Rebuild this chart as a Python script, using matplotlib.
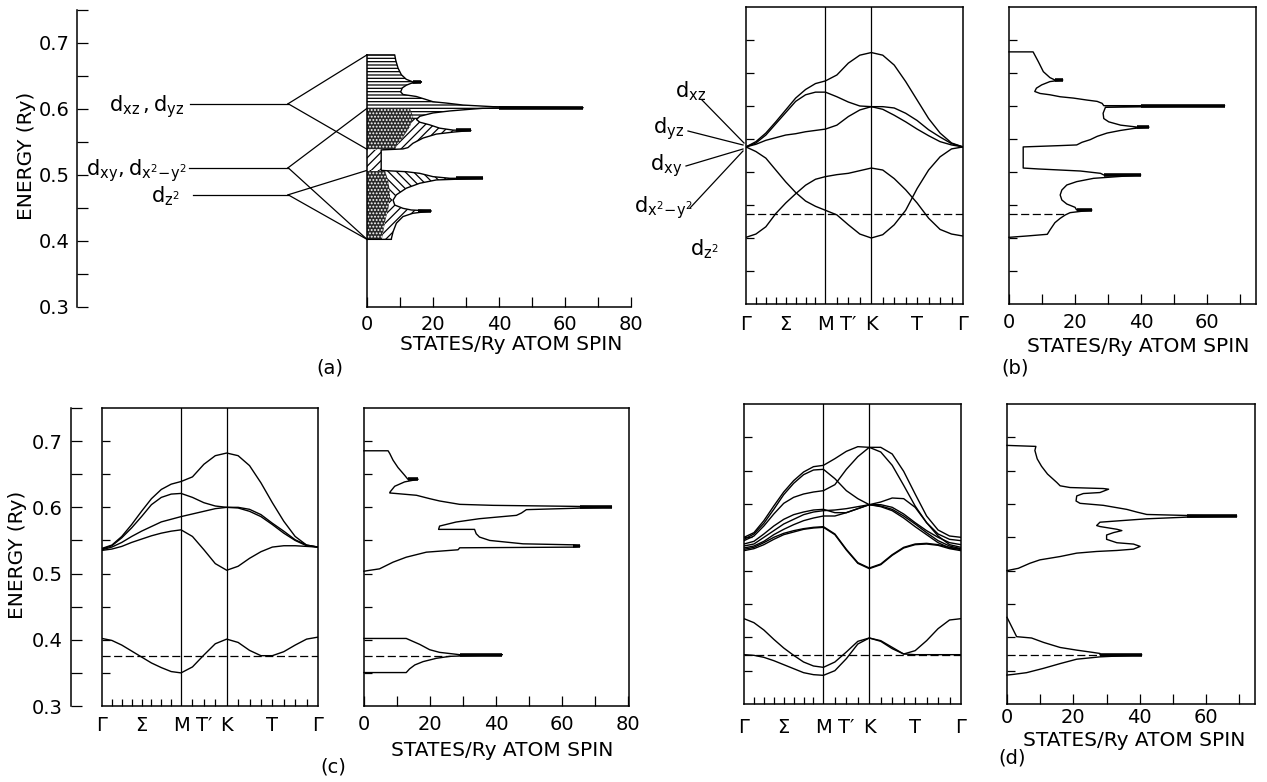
import numpy as np
import matplotlib
matplotlib.use("Agg")
import matplotlib.pyplot as plt
from matplotlib.patches import Polygon
from matplotlib.lines import Line2D
from matplotlib.ticker import NullLocator

plt.rcParams['font.family'] = ['DejaVu Sans']
plt.rcParams['mathtext.fontset'] = 'dejavusans'
plt.rcParams['hatch.linewidth'] = 0.9
plt.rcParams['axes.linewidth'] = 1.1

# ------------------------------------------------------------------ data
# k path: Gamma-M, M-K, K-Gamma (hexagonal zone), divided into equal steps
SEGMENTS = [1.0, 1 / np.sqrt(3), 2 / np.sqrt(3)]
N_DIV = [8, 4, 8]
K_LABELS = ['Γ', 'Σ', 'M', 'T′', 'K', 'T', 'Γ']
K_LABEL_IDX = [0, 4, 8, 10, 12, 16, 20]

# panel (a): atomic levels and their split sub-band edges
LEVEL_E = [0.608, 0.511, 0.470]
LEVEL_LABELS = [r'$\mathrm{d_{xz}\,,d_{yz}}$', r'$\mathrm{d_{xy},d_{x^2\!-\!y^2}}$', r'$\mathrm{d_{z^2}}$']
FAN_TOP = [0.682, 0.601, 0.507]
FAN_BOT = [0.539, 0.4025, 0.4025]

A_DOS_STATES = [0, 8.4, 8.7, 9.4, 10.4, 11.9, 13.9, 16.5, 13.4, 11.9, 10.7, 10.2, 10.9, 14.9, 17.5, 20.0,
                24.0, 29.1, 38.2, 65.5, 35.0, 31.0, 25.0, 20.0, 16.0, 15.0, 16.0, 19.0, 22.0, 26.1, 31.5,
                26.1, 21.0, 17.0, 13.9, 12.4, 10.9, 4.3, 4.3, 5.9, 11.9, 16.0, 20.0, 25.1, 35.0, 21.0,
                16.0, 11.9, 8.9, 7.9, 8.4, 10.9, 13.4, 19.5, 13.9, 10.9, 8.9, 7.9, 7.4, 7.4, 0]
A_DOS_ENERGY = [0.682, 0.682, 0.674, 0.662, 0.652, 0.645, 0.641, 0.641, 0.639, 0.636, 0.632, 0.626, 0.622,
                0.619, 0.615, 0.611, 0.609, 0.606, 0.6035, 0.602, 0.601, 0.5995, 0.597, 0.594, 0.589,
                0.584, 0.580, 0.576, 0.571, 0.568, 0.5675, 0.565, 0.562, 0.556, 0.548, 0.5415, 0.5395,
                0.538, 0.507, 0.5065, 0.505, 0.5025, 0.4975, 0.495, 0.495, 0.4925, 0.4875, 0.480, 0.470,
                0.462, 0.4545, 0.4495, 0.447, 0.4455, 0.442, 0.437, 0.427, 0.414, 0.404, 0.4025, 0.4025]
A_SPIKE_E = [0.641, 0.602, 0.5675, 0.495, 0.4455]
A_SPIKE_FROM = [13.9, 40.0, 27.0, 27.0, 15.5]
A_SPIKE_TO = [16.5, 65.5, 31.5, 35.0, 19.5]
A_HATCH_BOUNDS = [0.69, 0.585, 0.539, 0.507, 0.462, 0.40]
A_HATCHES = ['-----', '////', '////', '\\\\\\\\', '////']
A_DOT1_STATES = [0, 13.0, 14.0, 13.0, 11.0, 8.8, 8.6, 0]
A_DOT1_ENERGY = [0.601, 0.601, 0.588, 0.573, 0.558, 0.543, 0.539, 0.539]
A_DOT2_STATES = [0, 5.5, 6.5, 7.0, 6.5, 5.5, 4.5, 0]
A_DOT2_ENERGY = [0.506, 0.506, 0.490, 0.470, 0.450, 0.430, 0.4025, 0.4025]

# panel (b): bands and DOS
B_BANDS = [
    [0.538, 0.546, 0.559, 0.576, 0.594, 0.612, 0.625, 0.634, 0.638, 0.647, 0.665, 0.677, 0.681, 0.677, 0.662, 0.637, 0.609, 0.581, 0.559, 0.544, 0.538],
    [0.538, 0.544, 0.556, 0.573, 0.590, 0.607, 0.617, 0.621, 0.621, 0.614, 0.606, 0.600, 0.599, 0.599, 0.597, 0.589, 0.578, 0.564, 0.553, 0.543, 0.538],
    [0.538, 0.542, 0.548, 0.552, 0.556, 0.558, 0.561, 0.563, 0.565, 0.571, 0.584, 0.594, 0.599, 0.595, 0.586, 0.576, 0.565, 0.555, 0.546, 0.541, 0.538],
    [0.538, 0.531, 0.521, 0.503, 0.485, 0.469, 0.456, 0.448, 0.442, 0.435, 0.420, 0.406, 0.400, 0.405, 0.420, 0.442, 0.475, 0.503, 0.523, 0.535, 0.538],
    [0.401, 0.406, 0.417, 0.437, 0.453, 0.467, 0.480, 0.489, 0.493, 0.496, 0.498, 0.502, 0.506, 0.503, 0.490, 0.473, 0.453, 0.430, 0.413, 0.406, 0.403],
]
B_FERMI = 0.436
B_FERMI_DOS = 17.5
B_DOS_STATES = [0, 7.3, 8.9, 10.4, 12.4, 13.9, 16.3, 12.4, 9.9, 8.3, 7.8, 9.4, 12.4, 15.5, 19.5, 23.6, 26.7,
                28.2, 28.7, 65.3, 29.2, 28.5, 28.7, 30.2, 33.8, 38.9, 42.4, 37.8, 33.8, 29.7, 26.7, 24.6,
                22.1, 20.5, 15.5, 4.3, 4.3, 8.9, 15.5, 21.6, 27.7, 28.7, 39.9, 25.6, 20.5, 17.5, 16.0, 15.5,
                16.0, 17.5, 20.0, 20.5, 25.1, 18.5, 17.0, 15.5, 13.9, 12.4, 11.6, 5.3, 0]
B_DOS_ENERGY = [0.682, 0.682, 0.667, 0.652, 0.643, 0.6394, 0.6394, 0.637, 0.632, 0.627, 0.622, 0.619, 0.617,
                0.614, 0.612, 0.609, 0.607, 0.604, 0.6005, 0.6005, 0.598, 0.589, 0.581, 0.576, 0.571, 0.568,
                0.568, 0.566, 0.563, 0.559, 0.554, 0.549, 0.545, 0.541, 0.540, 0.538, 0.506, 0.5046, 0.503,
                0.5015, 0.498, 0.4955, 0.4955, 0.4904, 0.4854, 0.4803, 0.4727, 0.4652, 0.4576, 0.4515,
                0.4465, 0.4424, 0.4424, 0.4384, 0.4348, 0.4298, 0.4232, 0.4121, 0.4056, 0.403, 0.401]
B_SPIKE_E = [0.6394, 0.6005, 0.568, 0.4955, 0.4424]
B_SPIKE_FROM = [13.9, 39.9, 38.9, 28.7, 20.5]
B_SPIKE_TO = [16.3, 65.3, 42.4, 39.9, 25.1]
B_BAND_LABELS = [r'$\mathrm{d_{xz}}$', r'$\mathrm{d_{yz}}$', r'$\mathrm{d_{xy}}$',
                 r'$\mathrm{d_{x^2\!-\!y^2}}$', r'$\mathrm{d_{z^2}}$']

# panel (c)
C_BANDS = [
    [0.538, 0.543, 0.556, 0.574, 0.594, 0.613, 0.627, 0.635, 0.639, 0.646, 0.665, 0.678, 0.682, 0.678, 0.663, 0.637, 0.607, 0.579, 0.556, 0.543, 0.540],
    [0.537, 0.542, 0.554, 0.569, 0.586, 0.604, 0.615, 0.620, 0.621, 0.615, 0.607, 0.602, 0.600, 0.600, 0.597, 0.589, 0.576, 0.564, 0.551, 0.543, 0.540],
    [0.536, 0.540, 0.547, 0.556, 0.564, 0.571, 0.578, 0.582, 0.586, 0.590, 0.594, 0.598, 0.600, 0.599, 0.594, 0.586, 0.574, 0.561, 0.550, 0.542, 0.540],
    [0.535, 0.537, 0.541, 0.547, 0.552, 0.557, 0.561, 0.564, 0.566, 0.556, 0.536, 0.515, 0.505, 0.511, 0.523, 0.533, 0.540, 0.542, 0.542, 0.541, 0.540],
    [0.402, 0.399, 0.392, 0.383, 0.374, 0.365, 0.358, 0.352, 0.350, 0.359, 0.377, 0.394, 0.401, 0.396, 0.384, 0.376, 0.376, 0.382, 0.392, 0.401, 0.404],
]
C_FERMI = 0.375
C_FERMI_DOS = 26.0
C_DOS_UP_STATES = [0, 7.3, 7.8, 8.8, 10.3, 12.3, 13.3, 16.4, 12.3, 9.3, 7.9, 7.8, 15.9, 19.9, 22.9, 29.0,
                   39.1, 63.3, 75.0, 63.3, 49.2, 47.7, 46.2, 40.6, 34.9, 27.9, 22.9, 22.6, 33.5, 34.0, 35.0,
                   38.1, 48.2, 63.3, 65.4, 63.3, 29.0, 28.5, 18.9, 12.8, 8.8, 4.7, 1.2, 0]
C_DOS_UP_ENERGY = [0.6854, 0.6854, 0.6813, 0.6712, 0.6601, 0.6485, 0.6424, 0.6424, 0.6384, 0.6318, 0.6232,
                   0.6217, 0.6182, 0.6131, 0.6096, 0.6045, 0.6030, 0.6015, 0.6005, 0.5985, 0.5965, 0.5914,
                   0.5879, 0.5854, 0.5828, 0.5778, 0.5717, 0.5667, 0.5667, 0.5601, 0.5551, 0.5500, 0.5449,
                   0.5434, 0.5414, 0.5399, 0.5389, 0.5359, 0.5323, 0.5247, 0.5172, 0.5071, 0.5045, 0.5035]
C_DOS_LO_STATES = [0, 12.8, 16.9, 19.9, 22.9, 29.0, 41.9, 26.0, 21.9, 17.9, 15.4, 13.8, 12.8, 0]
C_DOS_LO_ENERGY = [0.402, 0.402, 0.393, 0.385, 0.381, 0.3775, 0.3775, 0.375, 0.372, 0.367, 0.362, 0.356,
                   0.3505, 0.3505]
C_SPIKE_E = [0.6424, 0.6005, 0.5414, 0.3775]
C_SPIKE_FROM = [13.3, 65.4, 63.3, 29.0]
C_SPIKE_TO = [16.4, 75.0, 65.4, 41.9]

# panel (d)
D_BANDS = [
    [0.550, 0.557, 0.575, 0.597, 0.618, 0.635, 0.648, 0.656, 0.658, 0.668, 0.679, 0.686, 0.685, 0.685, 0.675, 0.649, 0.615, 0.582, 0.561, 0.552, 0.550],
    [0.545, 0.552, 0.567, 0.585, 0.601, 0.610, 0.615, 0.618, 0.620, 0.629, 0.652, 0.671, 0.685, 0.678, 0.658, 0.628, 0.597, 0.572, 0.555, 0.547, 0.545],
    [0.547, 0.555, 0.571, 0.592, 0.614, 0.631, 0.644, 0.651, 0.652, 0.638, 0.620, 0.608, 0.599, 0.599, 0.595, 0.585, 0.572, 0.560, 0.550, 0.542, 0.539],
    [0.540, 0.544, 0.555, 0.567, 0.577, 0.584, 0.588, 0.591, 0.592, 0.587, 0.587, 0.593, 0.599, 0.603, 0.609, 0.608, 0.595, 0.572, 0.552, 0.539, 0.535],
    [0.537, 0.540, 0.550, 0.560, 0.570, 0.577, 0.584, 0.588, 0.590, 0.591, 0.593, 0.596, 0.599, 0.597, 0.592, 0.582, 0.570, 0.557, 0.545, 0.537, 0.533],
    [0.534, 0.537, 0.544, 0.554, 0.562, 0.569, 0.575, 0.579, 0.582, 0.582, 0.587, 0.593, 0.599, 0.596, 0.590, 0.579, 0.566, 0.554, 0.542, 0.534, 0.532],
    [0.532, 0.535, 0.542, 0.550, 0.556, 0.560, 0.563, 0.565, 0.566, 0.555, 0.532, 0.512, 0.504, 0.510, 0.524, 0.535, 0.540, 0.541, 0.539, 0.535, 0.532],
    [0.530, 0.533, 0.539, 0.547, 0.554, 0.558, 0.562, 0.564, 0.565, 0.554, 0.531, 0.511, 0.503, 0.509, 0.523, 0.534, 0.539, 0.540, 0.538, 0.533, 0.530],
    [0.428, 0.422, 0.411, 0.397, 0.384, 0.373, 0.363, 0.357, 0.355, 0.363, 0.378, 0.394, 0.399, 0.395, 0.385, 0.375, 0.380, 0.395, 0.413, 0.426, 0.428],
    [0.374, 0.373, 0.370, 0.365, 0.359, 0.353, 0.347, 0.344, 0.343, 0.350, 0.368, 0.390, 0.399, 0.394, 0.383, 0.375, 0.374, 0.374, 0.374, 0.374, 0.374],
]
D_FERMI = 0.3735
D_FERMI_DOS = 28.0
D_DOS_UP_STATES = [0, 8.7, 8.4, 9.1, 10.4, 12.2, 15.0, 16.0, 19.0, 29.0, 30.6, 28.0, 23.0, 21.0, 20.8, 22.0,
                   29.0, 36.1, 39.1, 42.1, 54.2, 69.2, 54.2, 42.1, 32.1, 28.0, 27.0, 28.0, 33.1, 34.6, 32.1,
                   30.0, 30.0, 33.1, 38.1, 40.1, 38.1, 33.1, 27.0, 21.0, 16.0, 9.9, 6.9, 3.4, 0.9, 0]
D_DOS_UP_ENERGY = [0.6879, 0.6864, 0.6803, 0.6677, 0.6566, 0.6449, 0.6323, 0.6273, 0.6247, 0.6232, 0.6222,
                   0.6172, 0.6157, 0.6121, 0.6045, 0.6010, 0.5980, 0.5919, 0.5879, 0.5843, 0.5828, 0.5818,
                   0.5803, 0.5778, 0.5742, 0.5727, 0.5677, 0.5662, 0.5621, 0.5601, 0.5571, 0.5535, 0.5470,
                   0.5419, 0.5399, 0.5364, 0.5323, 0.5303, 0.5288, 0.5263, 0.5212, 0.5162, 0.5111, 0.5035,
                   0.5010, 0.5000]
D_DOS_LO_STATES = [0, 2.9, 7.4, 11.0, 16.0, 21.0, 26.0, 28.0, 28.0, 40.6, 28.0, 21.0, 16.0, 11.0, 5.9, 1.9, 0]
D_DOS_LO_ENERGY = [0.430, 0.401, 0.399, 0.3924, 0.3848, 0.3808, 0.3773, 0.3758, 0.3737, 0.3737, 0.3707,
                   0.3672, 0.3606, 0.3535, 0.347, 0.3444, 0.3434]
D_SPIKE_E = [0.5818, 0.3737]
D_SPIKE_FROM = [54.2, 28.0]
D_SPIKE_TO = [69.2, 40.6]

DOS_LABEL = 'STATES/Ry ATOM SPIN'
E_LABEL = 'ENERGY (Ry)'

# ------------------------------------------------------------------ helpers
W, H = 1267, 782
fig = plt.figure(figsize=(W / 100, H / 100), dpi=100)
fig.patch.set_facecolor('white')

K = [0.0]
_start = 0.0
for _L, _n in zip(SEGMENTS, N_DIV):
    K += list(_start + _L * np.arange(1, _n + 1) / _n)
    _start += _L
K = np.array(K)
I_M, I_K = N_DIV[0], N_DIV[0] + N_DIV[1]

DASH = (6.5, 2.8)


def add_ax(l, t, r, b):
    return fig.add_axes([l / W, 1 - b / H, (r - l) / W, (b - t) / H])


def fx(x):
    return x / W


def fy(y):
    return 1 - y / H


def style_yticks_in(ax, length=6):
    ax.set_yticks(np.arange(0.35, 0.71, 0.05))
    ax.set_yticklabels([])
    ax.tick_params(axis='y', direction='in', length=length, width=0.9)
    ax.yaxis.set_minor_locator(NullLocator())


def band_axes(ax, bands, fermi, pad):
    for e in bands:
        ax.plot(K, e, color='k', lw=1.0, solid_joinstyle='round')
    ax.plot([K[0], K[-1]], [fermi, fermi], color='k', lw=0.9, dashes=DASH)
    for i in (I_M, I_K):
        ax.axvline(K[i], color='k', lw=0.9)
    ax.set_xlim(K[0], K[-1])
    ax.set_ylim(0.3, 0.75)
    ax.set_xticks(K[K_LABEL_IDX])
    ax.set_xticklabels(K_LABELS)
    ax.set_xticks([K[i] for i in range(1, len(K) - 1) if i not in (I_M, I_K)], minor=True)
    ax.xaxis.remove_overlapping_locs = False
    ax.tick_params(axis='x', which='major', length=0, labelsize=14, pad=pad)
    ax.tick_params(axis='x', which='minor', direction='in', length=5, width=0.9)
    style_yticks_in(ax)


def dos_axes(ax, pieces, spikes, fermi, fermi_x, xmax, pad):
    for xs, es in pieces:
        ax.plot(xs, es, color='k', lw=1.0, clip_on=False)
    for e, a, b in zip(*spikes):
        ax.plot([a, b], [e, e], color='k', lw=2.6, solid_capstyle='butt')
    if fermi is not None:
        ax.plot([0, fermi_x], [fermi, fermi], color='k', lw=0.9, dashes=DASH)
    ax.set_xlim(0, xmax)
    ax.set_ylim(0.3, 0.75)
    ticks = np.arange(0, xmax + 0.01, 10)
    ax.set_xticks(ticks)
    ax.set_xticklabels([f'{t:.0f}' if round(t) % 20 == 0 else '' for t in ticks])
    ax.tick_params(axis='x', direction='in', length=7, width=0.9, labelsize=14, pad=pad)
    style_yticks_in(ax)


def left_energy_axis(ax, pad):
    ax.set_ylim(0.3, 0.75)
    ax.set_xlim(0, 1)
    for s in ('top', 'right', 'bottom'):
        ax.spines[s].set_visible(False)
    ax.set_xticks([])
    ticks = np.arange(0.30, 0.751, 0.05)
    ax.set_yticks(ticks)
    ax.set_yticklabels([f'{t:.1f}' if round(t * 100) % 10 == 0 and t < 0.74 else '' for t in ticks])
    ax.tick_params(axis='y', direction='in', length=8, width=0.9, labelsize=14, pad=pad)
    ax.patch.set_alpha(0)


# ------------------------------------------------------------------ panel (a)
ax_lv = add_ax(77, 10, 367, 307)
left_energy_axis(ax_lv, pad=5)
LV_START = [0.39, 0.386, 0.40]
LV_TEXT_X = [0.372, 0.379, 0.355]
LV_END = 0.728
for i, e in enumerate(LEVEL_E):
    ax_lv.plot([LV_START[i], LV_END], [e, e], color='k', lw=0.9, clip_on=False)
    ax_lv.plot([LV_END, 1.0], [e, FAN_TOP[i]], color='k', lw=0.9, clip_on=False)
    ax_lv.plot([LV_END, 1.0], [e, FAN_BOT[i]], color='k', lw=0.9, clip_on=False)
    ax_lv.text(LV_TEXT_X[i], e - 0.011, LEVEL_LABELS[i], ha='right', va='baseline', fontsize=15)

ax_a = add_ax(367, 10, 631, 307)
ax_a.patch.set_alpha(0)
tot = Polygon(np.column_stack([A_DOS_STATES, A_DOS_ENERGY]), closed=True, facecolor='none',
              edgecolor='none')
ax_a.add_patch(tot)
for e_hi, e_lo, h in zip(A_HATCH_BOUNDS[:-1], A_HATCH_BOUNDS[1:], A_HATCHES):
    c = ax_a.fill_betweenx([e_lo, e_hi], 0, 100, facecolor='white', edgecolor='k', hatch=h, linewidth=0)
    c.set_clip_path(tot)
for xs, es in [(A_DOT1_STATES, A_DOT1_ENERGY), (A_DOT2_STATES, A_DOT2_ENERGY)]:
    p = Polygon(np.column_stack([xs, es]), closed=True, facecolor='#2a2a2a', edgecolor='white',
                hatch='.....', lw=0)
    ax_a.add_patch(p)
    p.set_clip_path(tot)
dos_axes(ax_a, [(A_DOS_STATES, A_DOS_ENERGY)], (A_SPIKE_E, A_SPIKE_FROM, A_SPIKE_TO), None, 0, 80,
         pad=5.5)
ax_a.spines['top'].set_visible(False)
ax_a.spines['right'].set_visible(False)
ax_a.spines['left'].set_bounds(0.3, A_DOS_ENERGY[0])
ax_a.set_yticks([])

# ------------------------------------------------------------------ panel (b)
ax_bb = add_ax(746, 7, 963, 304)
band_axes(ax_bb, B_BANDS, B_FERMI, pad=8)
ax_bd = add_ax(1009, 7, 1256, 304)
dos_axes(ax_bd, [(B_DOS_STATES, B_DOS_ENERGY)], (B_SPIKE_E, B_SPIKE_FROM, B_SPIKE_TO), B_FERMI,
         B_FERMI_DOS, 74.8, pad=6.5)

B_LABEL_POS = [(675, 97, 'left'), (653, 133, 'left'), (650, 170, 'left'), (693, 212, 'right'),
               (690, 255, 'left')]
for lab, (x, y, ha) in zip(B_BAND_LABELS, B_LABEL_POS):
    fig.text(fx(x), fy(y), lab, ha=ha, va='baseline', fontsize=15)
B_LEADERS = [((702, 100), (744, 143)), ((688, 131), (743, 145)), ((686, 166), (743, 149)),
             ((690, 208), (743, 151))]
for (x0, y0), (x1, y1) in B_LEADERS:
    fig.add_artist(Line2D([fx(x0), fx(x1)], [fy(y0), fy(y1)], color='k', lw=0.9,
                          transform=fig.transFigure))

# ------------------------------------------------------------------ panel (c)
ax_cl = add_ax(71, 408, 100, 706)
left_energy_axis(ax_cl, pad=5.8)
ax_cb = add_ax(102, 408, 318, 706)
band_axes(ax_cb, C_BANDS, C_FERMI, pad=7)
ax_cd = add_ax(364, 408, 629, 706)
dos_axes(ax_cd, [(C_DOS_UP_STATES, C_DOS_UP_ENERGY), (C_DOS_LO_STATES, C_DOS_LO_ENERGY)],
         (C_SPIKE_E, C_SPIKE_FROM, C_SPIKE_TO), C_FERMI, C_FERMI_DOS, 80.3, pad=6.5)

# ------------------------------------------------------------------ panel (d)
ax_db = add_ax(744, 404, 961, 704)
band_axes(ax_db, D_BANDS, D_FERMI, pad=10)
ax_dd = add_ax(1007, 404, 1255, 704)
dos_axes(ax_dd, [(D_DOS_UP_STATES, D_DOS_UP_ENERGY), (D_DOS_LO_STATES, D_DOS_LO_ENERGY)],
         (D_SPIKE_E, D_SPIKE_FROM, D_SPIKE_TO), D_FERMI, D_FERMI_DOS, 74.7, pad=3)

# ------------------------------------------------------------------ labels
for x, y in [(511, 345), (1138, 347), (502, 750), (1134, 740)]:
    fig.text(fx(x), fy(y), DOS_LABEL, ha='center', va='center', fontsize=14.5)
for x, y in [(26, 156), (18, 555)]:
    fig.text(fx(x), fy(y), E_LABEL, ha='center', va='center', rotation=90, fontsize=14.5)
for x, y, s in [(330, 368, '(a)'), (1015, 368, '(b)'), (333, 767, '(c)'), (1012, 758, '(d)')]:
    fig.text(fx(x), fy(y), s, ha='center', va='center', fontsize=14)

fig.savefig('out.png', dpi=100, facecolor='white')
